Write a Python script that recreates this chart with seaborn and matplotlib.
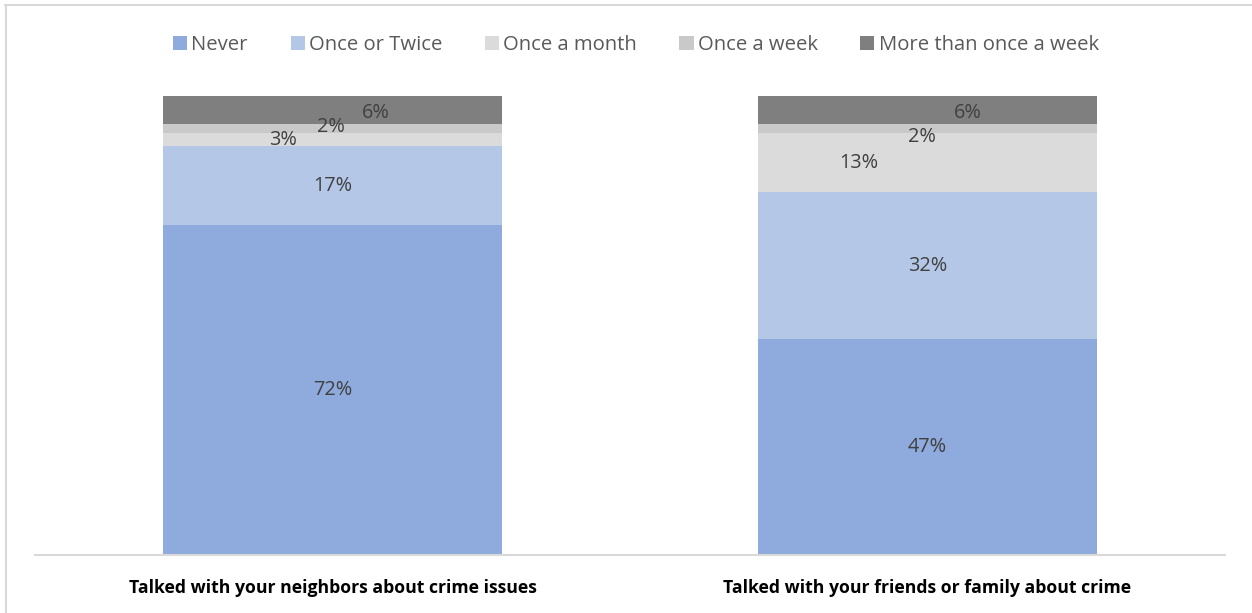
import matplotlib
matplotlib.use("Agg")
import matplotlib.pyplot as plt
import seaborn as sns
import pandas as pd
import numpy as np
from matplotlib.patches import Patch
from matplotlib.lines import Line2D

categories = ["Talked with your neighbors about crime issues",
              "Talked with your friends or family about crime"]
series = ["Never", "Once or Twice", "Once a month", "Once a week", "More than once a week"]
never = [72, 47]
once_twice = [17, 32]
once_month = [3, 13]
once_week = [2, 2]
more_week = [6, 6]
colors = ["#8FAADC", "#B4C7E7", "#DBDBDB", "#C9C9C9", "#7F7F7F"]

values = [never, once_twice, once_month, once_week, more_week]
df = pd.DataFrame({s: v for s, v in zip(series, values)}, index=categories)
cum = df.cumsum(axis=1)

sns.set_theme(style="white")
plt.rcParams['font.family'] = ['Open Sans', 'DejaVu Sans']

fig = plt.figure(figsize=(12.52, 6.13), dpi=100)
ax = fig.add_axes([35/1252, 1-555/613, 1190/1252, (555-96)/613])

for s, c in reversed(list(zip(series, colors))):
    d = pd.DataFrame({"cat": categories, "val": cum[s].values})
    sns.barplot(data=d, x="cat", y="val", color=c, width=0.57, ax=ax,
                saturation=1, edgecolor="none", linewidth=0, order=categories)

ax.set_ylim(0, 100)
ax.set_xlim(-0.5, 1.5)
ax.set_yticks([])
ax.set_xlabel("")
ax.set_ylabel("")
for sp in ["top", "right", "left"]:
    ax.spines[sp].set_visible(False)
ax.spines["bottom"].set_color("#D9D9D9")
ax.spines["bottom"].set_linewidth(1.5)
ax.tick_params(axis="x", length=0, pad=17)
ax.set_xticks(range(len(categories)))
ax.set_xticklabels(categories, fontsize=12.7, fontweight="bold", color="black")

# label offsets (pixels) for each bar / series: layout only
offsets = {
    0: [(0, 0), (0, 0), (-49, 0), (-2, 1), (43, -3)],
    1: [(0, 0), (0, 0), (-69, 0), (-6, -9), (40, -3)],
}
for i, cat in enumerate(categories):
    for j, s in enumerate(series):
        v = df.loc[cat, s]
        yc = cum.loc[cat, s] - v / 2
        dx, dy = offsets[i][j]
        ax.annotate(f"{v}%", (i, yc), xytext=(dx, dy), textcoords="offset pixels",
                    ha="center", va="center", fontsize=14.3, color="#404040")

handles = [Patch(facecolor=c, edgecolor="none") for c in colors]
leg = fig.legend(handles, series, loc="center", bbox_to_anchor=(636/1252, 1-45/613),
                 ncol=5, frameon=False, fontsize=14.6, handlelength=0.7, handleheight=0.7,
                 handletextpad=0.2, columnspacing=2.1, labelcolor="#595959")

# figure border (top and left)
fig.add_artist(Line2D([5/1252, 1], [1-5/613, 1-5/613], color="#D9D9D9", lw=1.5,
                      transform=fig.transFigure))
fig.add_artist(Line2D([5.5/1252, 5.5/1252], [0, 1-5/613], color="#D9D9D9", lw=1.5,
                      transform=fig.transFigure))

fig.savefig("out.png", dpi=100)
